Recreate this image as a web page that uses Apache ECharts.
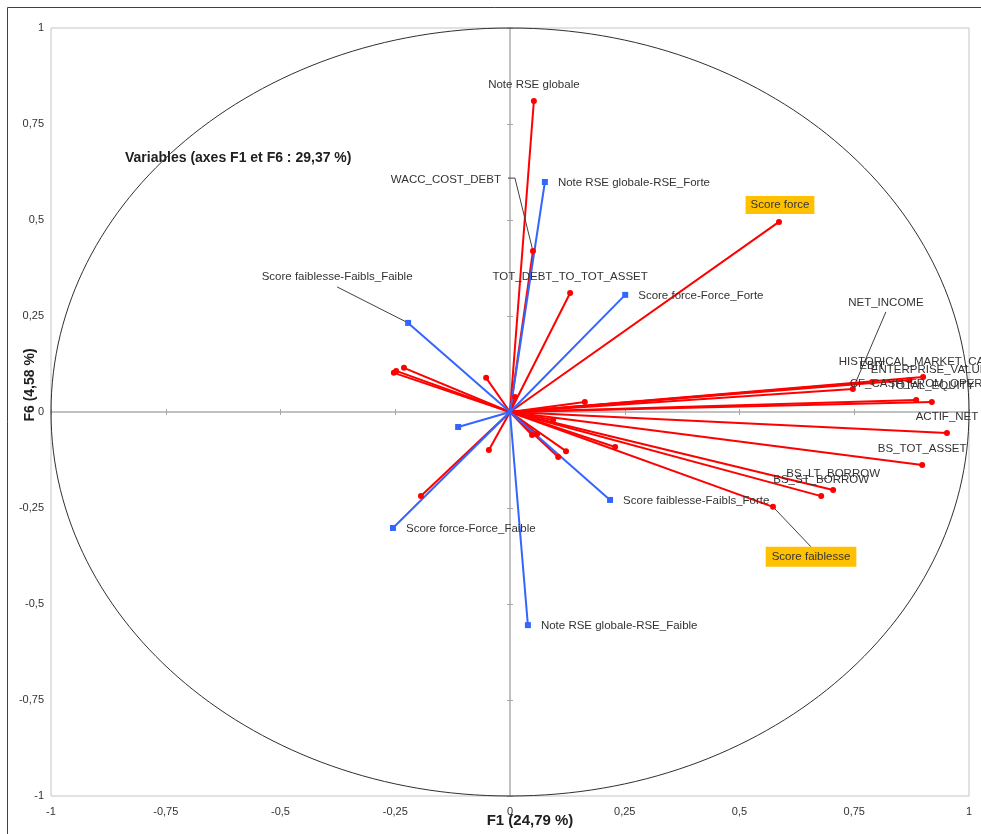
<!DOCTYPE html>
<html><head><meta charset="utf-8">
<script src="https://cdn.jsdelivr.net/npm/echarts@6/dist/echarts.min.js"></script>
<style>html,body{margin:0;padding:0;background:#fff}#c{width:981px;height:834px}</style>
</head><body><div id="c"></div>
<script>
// ---- data ----
const tickValues = [-1, -0.75, -0.5, -0.25, 0, 0.25, 0.5, 0.75, 1];
const activeNames = ['Note RSE globale','WACC_COST_DEBT','TOT_DEBT_TO_TOT_ASSET','Score force','NET_INCOME','EBIT',
  'HISTORICAL_MARKET_CAP','ENTERPRISE_VALUE','CF_CASH_FROM_OPER','TOTAL_EQUITY','ACTIF_NET','BS_TOT_ASSET',
  'BS_LT_BORROW','BS_ST_BORROW','Score faiblesse','','','','','','','','','','','','','',''];
const activeF1 = [0.052,0.050,0.131,0.586,0.747,0.789,0.870,0.900,0.885,0.919,0.952,0.898,0.704,0.678,0.573,
  -0.253,-0.248,-0.231,-0.052,-0.046,-0.194,0.011,0.163,0.048,0.059,0.122,0.105,0.094,0.229];
const activeF6 = [0.810,0.419,0.310,0.495,0.060,0.078,0.083,0.091,0.031,0.026,-0.055,-0.138,-0.203,-0.219,-0.247,
  0.102,0.107,0.115,0.089,-0.099,-0.219,0.039,0.026,-0.060,-0.057,-0.102,-0.117,-0.021,-0.091];
const suppNames = ['Note RSE globale-RSE_Forte','Score force-Force_Forte','Score faiblesse-Faibls_Faible',
  'Score force-Force_Faible','Score faiblesse-Faibls_Forte','Note RSE globale-RSE_Faible',''];
const suppF1 = [0.076,0.251,-0.222,-0.255,0.218,0.039,-0.113];
const suppF6 = [0.599,0.305,0.232,-0.302,-0.229,-0.555,-0.039];

// ---- label placement (layout only) ----
const labelPlace = {
  'WACC_COST_DEBT': {dx:-32, dy:-71, align:'right', leader:[[-25,-73],[-18,-73]]},
  'NET_INCOME': {dx:33, dy:-86, align:'center', leader:[[33,-77]]},
  'Score faiblesse-Faibls_Faible': {dx:-71, dy:-46, align:'center', leader:[[-71,-36]]},
  'Score force': {dx:1, dy:-17, align:'center', box:[3,5]},
  'Score faiblesse': {dx:38, dy:50, align:'center', box:[4,6], leader:[[38,40]]},
  'HISTORICAL_MARKET_CAP': {dx:6, dy:-18, align:'center'},
  'ENTERPRISE_VALUE': {dx:6, dy:-7, align:'center'}
};

const RED = '#FF0000', BLUE = '#3366FF', TXT = '#333333';
const FONT = '11.5px "Liberation Sans", Arial, sans-serif';
const fmt = v => String(v).replace('.', ',');

const activeData = activeNames.map((n,i)=>({name:n, value:[activeF1[i], activeF6[i], 0]}));
const suppData = suppNames.map((n,i)=>({name:n, value:[suppF1[i], suppF6[i], 1]}));
const allData = activeData.concat(suppData);

function vecRenderer(color){
  return function(params, api){
    const o = api.coord([0,0]);
    const p = api.coord([api.value(0), api.value(1)]);
    return {type:'line', shape:{x1:o[0],y1:o[1],x2:p[0],y2:p[1]}, style:{stroke:color, lineWidth:2}};
  };
}

function markRenderer(params, api){
  const item = allData[params.dataIndex];
  const kind = api.value(2);
  const p = api.coord([api.value(0), api.value(1)]);
  const children = [];
  if (kind === 0) {
    children.push({type:'circle', shape:{cx:p[0], cy:p[1], r:3}, style:{fill:RED}});
  } else {
    children.push({type:'rect', shape:{x:p[0]-3, y:p[1]-3, width:6, height:6}, style:{fill:BLUE}});
  }
  const name = item.name;
  if (name) {
    const lp = labelPlace[name];
    let tx, ty, align = 'center';
    if (lp) {
      tx = p[0] + lp.dx; ty = p[1] + lp.dy; align = lp.align;
      if (lp.leader) {
        const pts = lp.leader.map(d => [p[0]+d[0], p[1]+d[1]]);
        pts.push([p[0], p[1]]);
        children.unshift({type:'polyline', shape:{points:pts}, style:{stroke:'#404040', lineWidth:1, fill:null}});
      }
    } else if (kind === 1) {
      tx = p[0] + 13; ty = p[1] + 1; align = 'left';
    } else {
      tx = p[0]; ty = p[1] - 16;
    }
    const st = {text:name, x:tx, y:ty, fill:TXT, font:FONT, align:align, verticalAlign:'middle'};
    if (lp && lp.box) { st.backgroundColor = '#FFC000'; st.padding = lp.box; }
    children.push({type:'text', style:st, z2:10});
  }
  return {type:'group', children:children};
}

function circleRenderer(params, api){
  const c = api.coord([0,0]);
  const s = api.size([1,1]);
  return {type:'ellipse', shape:{cx:c[0], cy:c[1], rx:s[0], ry:s[1]}, style:{stroke:'#303030', fill:null, lineWidth:1}};
}

const baseAxis = {type:'value', min:-1, max:1, interval:0.25, splitLine:{show:false}};
const zeroLine = {lineStyle:{color:'#BDBDBD', width:1.5}};
const tickStyle = {lineStyle:{color:'#A8A8A8', width:1}};
const labelStyle = {color:'#333333', fontSize:11, fontFamily:'"Liberation Sans", Arial, sans-serif', formatter: fmt};

const chart = echarts.init(document.getElementById('c'));
chart.setOption({
  animation:false,
  backgroundColor:'#fff',
  grid:{left:51, right:12, top:28, bottom:38, show:true, borderColor:'#C4C4C4', borderWidth:1, containLabel:false},
  xAxis:[
    Object.assign({}, baseAxis, {position:'bottom', axisLine:{show:false, onZero:false}, axisTick:{show:false}, axisLabel:Object.assign({margin:10}, labelStyle)}),
    Object.assign({}, baseAxis, {position:'bottom', axisLine:Object.assign({onZero:true, onZeroAxisIndex:0}, zeroLine), axisTick:Object.assign({inside:true, length:3}, tickStyle), axisLabel:{show:false}}),
    Object.assign({}, baseAxis, {position:'bottom', axisLine:Object.assign({onZero:true, onZeroAxisIndex:0}, zeroLine), axisTick:Object.assign({inside:false, length:3}, tickStyle), axisLabel:{show:false}})
  ],
  yAxis:[
    Object.assign({}, baseAxis, {position:'left', axisLine:{show:false, onZero:false}, axisTick:{show:false}, axisLabel:Object.assign({margin:7}, labelStyle)}),
    Object.assign({}, baseAxis, {position:'left', axisLine:Object.assign({onZero:true, onZeroAxisIndex:0}, zeroLine), axisTick:Object.assign({inside:true, length:3}, tickStyle), axisLabel:{show:false}}),
    Object.assign({}, baseAxis, {position:'left', axisLine:Object.assign({onZero:true, onZeroAxisIndex:0}, zeroLine), axisTick:Object.assign({inside:false, length:3}, tickStyle), axisLabel:{show:false}})
  ],
  graphic:[
    {type:'rect', shape:{x:7.5, y:7.5, width:1100, height:1100}, style:{stroke:'#404040', fill:null, lineWidth:1}, silent:true, z:-1},
    {type:'text', x:125, y:158, style:{text:'Variables (axes F1 et F6 : 29,37 %)', font:'bold 14px "Liberation Sans", Arial, sans-serif', fill:'#202020', align:'left', verticalAlign:'middle'}},
    {type:'text', x:530, y:821, style:{text:'F1 (24,79 %)', font:'bold 15px "Liberation Sans", Arial, sans-serif', fill:'#202020', align:'center', verticalAlign:'middle'}},
    {type:'text', x:30, y:385, rotation:Math.PI/2, style:{text:'F6 (4,58 %)', font:'bold 14px "Liberation Sans", Arial, sans-serif', fill:'#202020', align:'center', verticalAlign:'middle'}}
  ],
  series:[
    {type:'custom', name:'circle', xAxisIndex:0, yAxisIndex:0, data:[[0,0]], renderItem:circleRenderer, silent:true, z:1},
    {type:'custom', name:'active', xAxisIndex:0, yAxisIndex:0, data:activeData, renderItem:vecRenderer(RED), z:2},
    {type:'custom', name:'supp', xAxisIndex:0, yAxisIndex:0, data:suppData, renderItem:vecRenderer(BLUE), z:2},
    {type:'custom', name:'marks', xAxisIndex:0, yAxisIndex:0, data:allData, renderItem:markRenderer, z:3}
  ]
});
</script></body></html>
